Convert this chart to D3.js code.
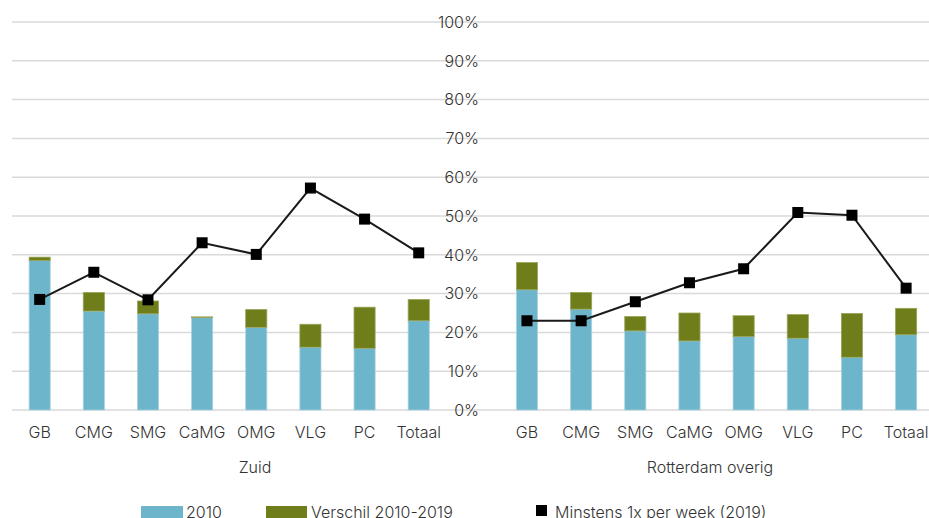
<!DOCTYPE html>
<html>
<head>
<meta charset="utf-8">
<script src="https://cdn.jsdelivr.net/npm/d3@7/dist/d3.min.js"></script>
<style>
  html, body { margin: 0; padding: 0; background: #fff; }
  svg { display: block; font-family: Inter, "Open Sans", sans-serif; font-weight: 300; }
</style>
</head>
<body>
<svg id="chart" width="929" height="518"></svg>
<script>
const categories = ["GB", "CMG", "SMG", "CaMG", "OMG", "VLG", "PC", "Totaal"];
const groups = ["Zuid", "Rotterdam overig"];
const base2010Zuid = [38.5, 25.5, 24.8, 23.8, 21.3, 16.2, 15.9, 23.0];
const diffZuid = [0.9, 4.8, 3.3, 0.2, 4.6, 5.9, 10.6, 5.5];
const weeklyZuid = [28.5, 35.5, 28.4, 43.1, 40.1, 57.2, 49.2, 40.5];
const base2010Overig = [31.0, 26.0, 20.4, 17.8, 18.9, 18.5, 13.6, 19.4];
const diffOverig = [7.0, 4.3, 3.7, 7.2, 5.4, 6.1, 11.3, 6.8];
const weeklyOverig = [23.0, 23.0, 27.9, 32.8, 36.4, 50.9, 50.2, 31.4];
const yTicks = [0, 10, 20, 30, 40, 50, 60, 70, 80, 90, 100];
const legendLabels = ["2010", "Verschil 2010-2019", "Minstens 1x per week (2019)"];

const colBlue = "#6db5cb";
const colGreen = "#6f7d1a";
const textCol = "#333333";

const svg = d3.select("#chart");
const y = d3.scaleLinear().domain([0, 100]).range([410, 22]);

// gridlines
svg.append("g").selectAll("line").data(yTicks).join("line")
  .attr("x1", 12).attr("x2", 929)
  .attr("y1", d => y(d)).attr("y2", d => y(d))
  .attr("stroke", "#d9d9d9").attr("stroke-width", 1.5);

const panels = [
  { name: groups[0], base: base2010Zuid, diff: diffZuid, weekly: weeklyZuid, range: [12.6, 445.8], labelX: 255 },
  { name: groups[1], base: base2010Overig, diff: diffOverig, weekly: weeklyOverig, range: [499.9, 933.2], labelX: 710 }
];

panels.forEach(p => {
  const x = d3.scaleBand().domain(categories).range(p.range).padding(0);
  const bw = x.bandwidth() * 0.39;
  const cx = c => x(c) + x.bandwidth() / 2;
  const g = svg.append("g");
  const rows = categories.map((c, i) => ({ c, b: p.base[i], d: p.diff[i], w: p.weekly[i] }));

  g.selectAll("rect.b").data(rows).join("rect")
    .attr("x", d => cx(d.c) - bw / 2).attr("width", bw)
    .attr("y", d => y(d.b)).attr("height", d => y(0) - y(d.b))
    .attr("fill", colBlue).attr("stroke", "#a8d3e0").attr("stroke-width", 0.8);
  g.selectAll("rect.d").data(rows).join("rect")
    .attr("x", d => cx(d.c) - bw / 2).attr("width", bw)
    .attr("y", d => y(d.b + d.d)).attr("height", d => y(d.b) - y(d.b + d.d))
    .attr("fill", colGreen).attr("stroke", "#9aa55a").attr("stroke-width", 0.8);

  const line = d3.line().x(d => cx(d.c)).y(d => y(d.w));
  g.append("path").datum(rows).attr("d", line)
    .attr("fill", "none").attr("stroke", "#1a1a1a").attr("stroke-width", 2);
  g.selectAll("rect.m").data(rows).join("rect")
    .attr("x", d => cx(d.c) - 5.5).attr("y", d => y(d.w) - 5.5)
    .attr("width", 11).attr("height", 11).attr("fill", "#000");

  // category labels
  const ax = d3.axisBottom(x).tickSize(0).tickPadding(0);
  const axG = svg.append("g").attr("transform", "translate(0,427)").call(ax);
  axG.select(".domain").remove();
  axG.selectAll("text").attr("font-size", 16).attr("fill", textCol)
    .attr("font-family", "Inter, 'Open Sans', sans-serif").attr("font-weight", 300).attr("dy", "0.71em");

  svg.append("text").attr("x", p.labelX).attr("y", 473).attr("text-anchor", "middle")
    .attr("font-size", 16).attr("fill", textCol).text(p.name);
});

// y-axis labels
svg.append("g").selectAll("text").data(yTicks).join("text")
  .attr("x", 479).attr("y", d => y(d)).attr("dy", "0.36em")
  .attr("text-anchor", "end").attr("font-size", 16).attr("fill", textCol)
  .text(d => d + "%");

// legend
const lg = svg.append("g");
lg.append("rect").attr("x", 141).attr("y", 506).attr("width", 42).attr("height", 14).attr("fill", colBlue);
lg.append("text").attr("x", 186).attr("y", 518).attr("font-size", 16).attr("fill", textCol).text(legendLabels[0]);
lg.append("rect").attr("x", 266).attr("y", 506).attr("width", 41).attr("height", 14).attr("fill", colGreen);
lg.append("text").attr("x", 311).attr("y", 518).attr("font-size", 16).attr("fill", textCol).text(legendLabels[1]);
lg.append("rect").attr("x", 536).attr("y", 505).attr("width", 11).attr("height", 11).attr("fill", "#000");
lg.append("text").attr("x", 555).attr("y", 518).attr("font-size", 16).attr("fill", textCol).text(legendLabels[2]);
</script>
</body>
</html>
